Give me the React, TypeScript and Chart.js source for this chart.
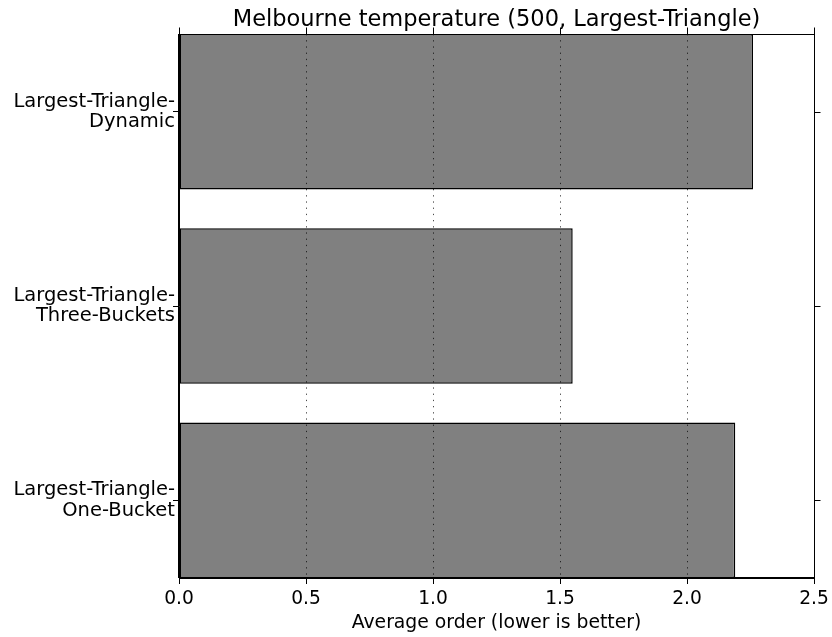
import React, { useEffect, useRef } from "react";
import { Chart, registerables } from "chart.js";

Chart.register(...registerables);

const categories: string[][] = [
  ["Largest-Triangle-", "Dynamic"],
  ["Largest-Triangle-", "Three-Buckets"],
  ["Largest-Triangle-", "One-Bucket"],
];
const averageOrder: number[] = [2.26, 1.55, 2.19];
const xTicks: number[] = [0, 0.5, 1.0, 1.5, 2.0, 2.5];
const titleText = "Melbourne temperature (500, Largest-Triangle)";
const xLabel = "Average order (lower is better)";

const FONT = "'DejaVu Sans', 'Liberation Sans', sans-serif";

const framePlugin = {
  id: "mplFrame",
  afterDatasetsDraw(chart: any) {
    const { ctx, chartArea } = chart;
    const xs = chart.scales.x;
    ctx.save();
    ctx.strokeStyle = "rgba(0,0,0,0.7)";
    ctx.lineWidth = 1;
    ctx.setLineDash([1.3, 4.9]);
    xTicks.forEach((v) => {
      if (v <= xs.min || v >= xs.max) return;
      const px = Math.round(xs.getPixelForValue(v)) + 0.5;
      ctx.beginPath();
      ctx.moveTo(px, chartArea.top);
      ctx.lineTo(px, chartArea.bottom);
      ctx.stroke();
    });
    ctx.restore();
  },
  afterDraw(chart: any) {
    const { ctx, chartArea } = chart;
    const xs = chart.scales.x;
    const ys = chart.scales.y;
    ctx.save();
    ctx.strokeStyle = "#000";
    ctx.lineWidth = 1;
    ctx.setLineDash([]);
    const l = Math.round(chartArea.left) - 0.5;
    const r = Math.round(chartArea.right) + 0.5;
    const t = Math.round(chartArea.top) + 0.5;
    const b = Math.round(chartArea.bottom) - 0.5;
    ctx.strokeRect(l, t, r - l, b - t);
    // top ticks (outward)
    xTicks.forEach((v) => {
      const px = Math.round(xs.getPixelForValue(v)) + 0.5;
      ctx.beginPath();
      ctx.moveTo(px, t);
      ctx.lineTo(px, t - 7);
      ctx.stroke();
    });
    // right ticks (outward)
    categories.forEach((_, i) => {
      const py = Math.round(ys.getPixelForValue(i)) + 0.5;
      ctx.beginPath();
      ctx.moveTo(r, py);
      ctx.lineTo(r + 6, py);
      ctx.stroke();
    });
    // title
    ctx.fillStyle = "#000";
    ctx.font = `22.5px ${FONT}`;
    ctx.textAlign = "center";
    ctx.textBaseline = "alphabetic";
    ctx.fillText(titleText, (chartArea.left + chartArea.right) / 2, 26);
    ctx.restore();
  },
};

export default function App() {
  const ref = useRef<HTMLCanvasElement | null>(null);

  useEffect(() => {
    if (!ref.current) return;
    const chart = new Chart(ref.current, {
      type: "bar",
      data: {
        datasets: [
          {
            data: averageOrder.map((v, i) => ({ x: v, y: i })),
            backgroundColor: "#808080",
            borderColor: "#000000",
            borderWidth: 1.5,
            borderSkipped: false,
            categoryPercentage: 1.0,
            barPercentage: 0.8,
          } as any,
        ],
      },
      plugins: [framePlugin],
      options: {
        indexAxis: "y",
        animation: false,
        responsive: false,
        maintainAspectRatio: false,
        layout: { padding: { top: 34, right: 18, bottom: 0, left: 0 } },
        plugins: {
          legend: { display: false },
          title: { display: false },
          tooltip: { enabled: false },
        },
        scales: {
          x: {
            type: "linear",
            position: "bottom",
            min: 0,
            max: 2.5,
            offset: false,
            afterBuildTicks: (scale: any) => {
              scale.ticks = xTicks.map((v) => ({ value: v }));
            },
            afterFit: (scale: any) => {
              scale.height = 59;
              scale.paddingLeft = 0;
              scale.paddingRight = 0;
            },
            ticks: {
              color: "#000",
              font: { family: FONT, size: 18.67 },
              padding: 4,
              maxRotation: 0,
              autoSkip: false,
              callback: (v: any) => Number(v).toFixed(1),
            },
            grid: {
              offset: false,
              drawOnChartArea: false,
              drawTicks: true,
              tickLength: 6,
              color: "#000",
            },
            border: { display: true, color: "#000" },
            title: {
              display: true,
              text: xLabel,
              color: "#000",
              font: { family: FONT, size: 18.8 },
              padding: { top: 0, bottom: 3 },
            },
          },
          y: {
            type: "linear",
            position: "left",
            reverse: true,
            min: -0.4,
            max: 2.4,
            offset: false,
            afterBuildTicks: (scale: any) => {
              scale.ticks = categories.map((_, i) => ({ value: i }));
            },
            afterFit: (scale: any) => {
              scale.width = 179;
              scale.paddingTop = 0;
              scale.paddingBottom = 0;
            },
            ticks: {
              color: "#000",
              font: { family: FONT, size: 19.5, lineHeight: 1.05 },
              padding: -2,
              autoSkip: false,
              callback: (v: any) => categories[Number(v)] ?? "",
            },
            grid: {
              offset: false,
              drawOnChartArea: false,
              drawTicks: true,
              tickLength: 6,
              color: "#000",
            },
            border: { display: true, color: "#000" },
          },
        },
      } as any,
    });
    return () => chart.destroy();
  }, []);

  return (
    <div style={{ position: "absolute", left: 0, top: 0, width: 832, height: 637, background: "#fff" }}>
      <canvas ref={ref} width={832} height={637} style={{ width: 832, height: 637, display: "block" }} />
    </div>
  );
}
